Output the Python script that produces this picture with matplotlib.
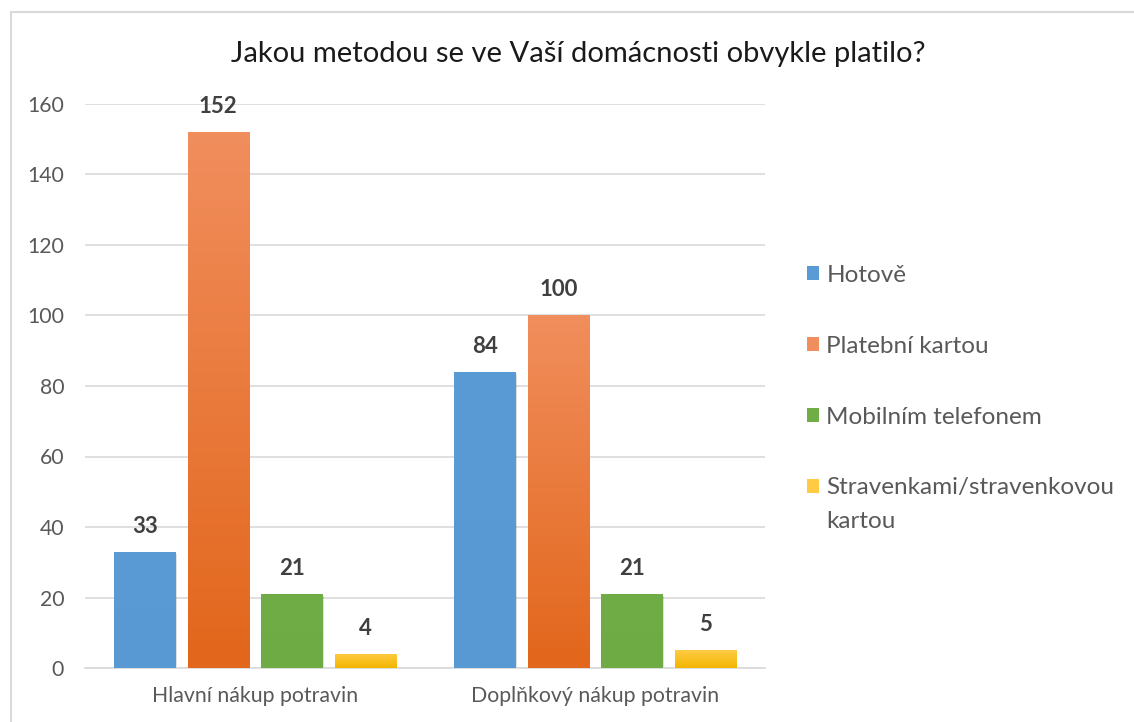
import numpy as np
import matplotlib
matplotlib.use("Agg")
import matplotlib.pyplot as plt
from matplotlib.colors import LinearSegmentedColormap
from matplotlib.patches import Rectangle

plt.rcParams['font.family'] = ['Lato', 'DejaVu Sans']

# data
kategorie = ["Hlavní nákup potravin", "Doplňkový nákup potravin"]
serie = ["Hotově", "Platební kartou", "Mobilním telefonem", "Stravenkami/stravenkovou"]
serie_pokr = "kartou"  # second line of the last legend entry
hotove = [33, 84]
karta = [152, 100]
mobil = [21, 21]
stravenky = [4, 5]
hodnoty = [hotove, karta, mobil, stravenky]

# (top colour, bottom colour) for each series
barvy = [("#5B9BD5", "#5898D3"),
         ("#F18E5D", "#E2661B"),
         ("#70AD47", "#6EAB45"),
         ("#FFCB45", "#F2B600")]

fig = plt.figure(figsize=(11.34, 7.22), dpi=100)
fig.patch.set_facecolor("white")

# chart border
fig.add_artist(Rectangle((11 / 1134, -0.05), 1.2, (722 - 12) / 722 + 0.05,
                         transform=fig.transFigure, fill=False,
                         edgecolor="#D9D9D9", linewidth=1.5))

ax = fig.add_axes([85 / 1134, 54 / 722, 680 / 1134, 564 / 722])
ax.set_xlim(-0.5, 1.5)
ax.set_ylim(0, 160)

sirka = 0.18
krok = 0.216
x = np.arange(len(kategorie))

for i, (nazev, vals) in enumerate(zip(serie, hodnoty)):
    posun = (i - 1.5) * krok
    cmap = LinearSegmentedColormap.from_list("g%d" % i, [barvy[i][1], barvy[i][0]])
    bars = ax.bar(x + posun, vals, sirka, color=barvy[i][0], label=nazev, zorder=3)
    for b, v in zip(bars, vals):
        # soft shadow
        ax.add_patch(Rectangle((b.get_x() + 0.004, 0), b.get_width(), v - 0.6,
                               facecolor="#000000", alpha=0.12, zorder=2.5,
                               linewidth=0))
        grad = np.linspace(0, 1, 256).reshape(-1, 1)
        im = ax.imshow(grad, cmap=cmap, origin="lower", aspect="auto",
                       extent=(b.get_x(), b.get_x() + b.get_width(), 0, v),
                       zorder=3.5)
        im.set_clip_path(b)
        ax.text(b.get_x() + b.get_width() / 2, v + 4.3, str(v), ha="center",
                va="bottom", fontsize=16, fontweight="bold", color="#404040")

ax.set_xlim(-0.5, 1.5)
ax.set_ylim(0, 160)
ax.set_yticks(range(0, 161, 20))
ax.set_xticks(x)
ax.set_xticklabels(kategorie)
ax.tick_params(axis="both", length=0, labelsize=15.3, labelcolor="#595959")
ax.tick_params(axis="y", pad=15)
ax.tick_params(axis="x", pad=13)
ax.grid(axis="y", color="#D9D9D9", linewidth=1.2, zorder=0)
for s in ["top", "right", "left"]:
    ax.spines[s].set_visible(False)
ax.spines["bottom"].set_color("#D9D9D9")
ax.spines["bottom"].set_linewidth(1.2)

fig.text(578 / 1134, 1 - 54 / 722, "Jakou metodou se ve Vaší domácnosti obvykle platilo?",
         ha="center", va="center", fontsize=21, color="#1a1a1a")

h, l = ax.get_legend_handles_labels()
leg = fig.legend(h, l, loc="upper left", bbox_to_anchor=(785 / 1134, 1 - 243 / 722),
                 frameon=False, fontsize=17.5, labelcolor="#595959",
                 handlelength=0.5, handleheight=0.5, handletextpad=0.3,
                 labelspacing=2.05)

# druhy radek posledni polozky legendy
fig.canvas.draw()
bb = leg.get_texts()[-1].get_window_extent()
fig.text(bb.x0 / 1134, (bb.y0 - 34) / 722, serie_pokr, ha="left", va="bottom",
         fontsize=17.5, color="#595959")

fig.savefig("out.png", dpi=100)
